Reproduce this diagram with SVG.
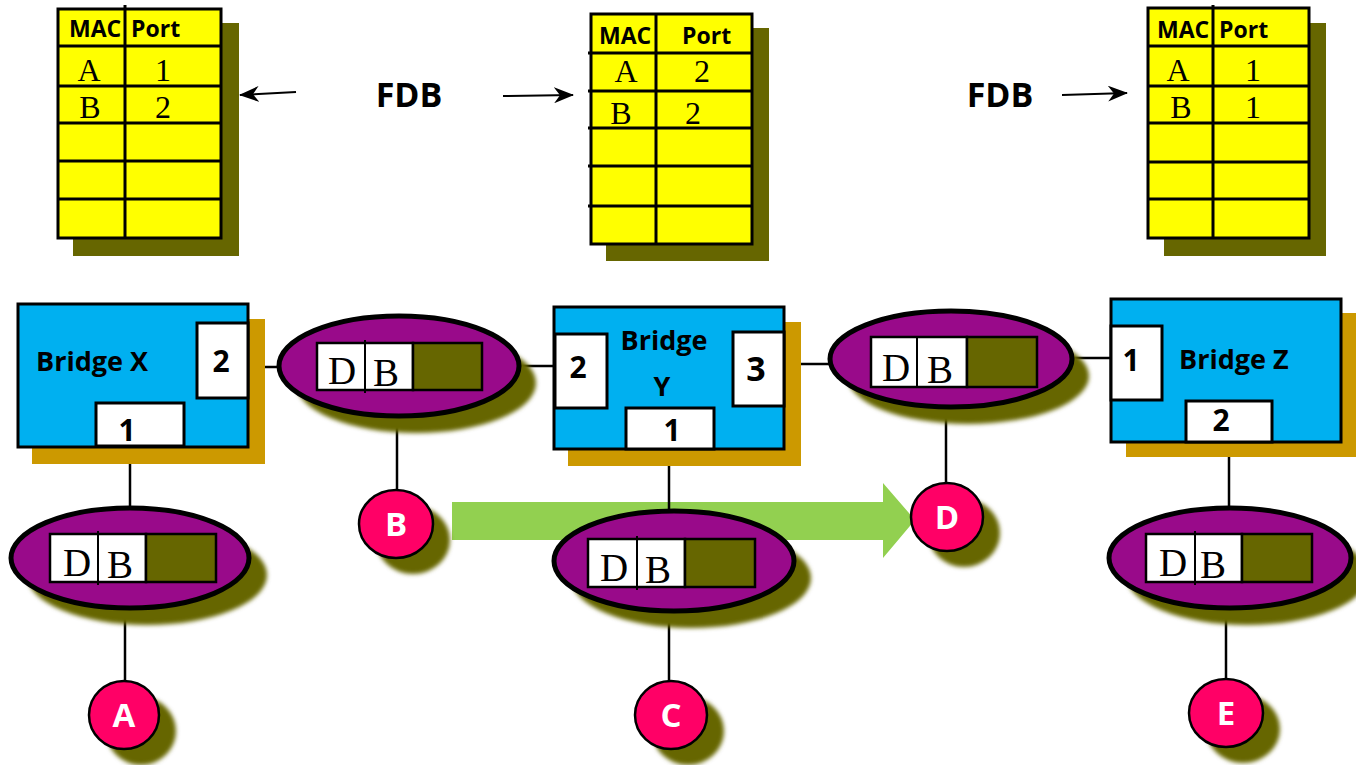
<svg xmlns="http://www.w3.org/2000/svg" width="1356" height="765" viewBox="0 0 1356 765">
<defs>
<filter id="soft" x="-20%" y="-20%" width="140%" height="140%"><feGaussianBlur stdDeviation="2"/></filter>
<marker id="arr" markerUnits="userSpaceOnUse" markerWidth="20" markerHeight="16" refX="19" refY="8" orient="auto"><path d="M0,0 L20,8 L0,16 L6,8 z" fill="#000"/></marker>
</defs>
<style>
.tbl{fill:#FFFF00;stroke:#000;stroke-width:3}
.tshadow{fill:#666600}
.grid{stroke:#000;stroke-width:3}
.hdr{font-family:"Open Sans","DejaVu Sans",sans-serif;font-weight:bold;font-size:23px;fill:#000}
.cell{font-family:"Liberation Serif",serif;font-size:32px;fill:#000;text-anchor:middle}
.fdb{font-family:"Open Sans","DejaVu Sans",sans-serif;font-weight:bold;font-size:34px;fill:#000;text-anchor:middle}
.bridge{fill:#00B0F0;stroke:#000;stroke-width:3}
.bshadow{fill:#CC9900}
.port{fill:#fff;stroke:#000;stroke-width:3}
.plabel{font-family:"Open Sans","DejaVu Sans",sans-serif;font-weight:bold;font-size:30px;fill:#000;text-anchor:middle}
.blabel{font-family:"Open Sans","DejaVu Sans",sans-serif;font-weight:bold;font-size:27px;fill:#000}
.seg{fill:#990A8A;stroke:#000;stroke-width:5}
.sshadow{fill:#666600;filter:url(#soft)}
.frame{fill:#fff;stroke:#000;stroke-width:2.5}
.data{fill:#666600;stroke:#000;stroke-width:2.5}
.div{stroke:#000;stroke-width:2}
.flet{font-family:"Liberation Serif",serif;font-size:39px;fill:#000;text-anchor:middle}
.host{fill:#FF0066;stroke:#000;stroke-width:2.5}
.hlabel{font-family:"Open Sans","DejaVu Sans",sans-serif;font-weight:bold;font-size:33px;fill:#fff;text-anchor:middle}
.link{stroke:#000;stroke-width:2.5;fill:none}
.farr{stroke:#000;stroke-width:2;fill:none;marker-end:url(#arr)}
</style>

<g id="connectors">
<polygon points="452,502 883,502 883,483 915,520 883,558 883,540 452,540" fill="#92D050"/>
<line class="farr" x1="296" y1="92" x2="240" y2="95"/>
<line class="farr" x1="503" y1="96" x2="573" y2="95"/>
<line class="farr" x1="1062" y1="95" x2="1127" y2="93"/>
<line class="link" x1="130" y1="447" x2="130" y2="508"/>
<line class="link" x1="125" y1="608" x2="125" y2="681"/>
<line class="link" x1="248" y1="367" x2="280" y2="367"/>
<line class="link" x1="397" y1="416" x2="397" y2="490"/>
<line class="link" x1="519" y1="366" x2="555" y2="366"/>
<line class="link" x1="669" y1="449" x2="669" y2="511"/>
<line class="link" x1="669" y1="611" x2="669" y2="681"/>
<line class="link" x1="784" y1="364" x2="830" y2="364"/>
<line class="link" x1="946" y1="407" x2="946" y2="483"/>
<line class="link" x1="1072" y1="358" x2="1111" y2="358"/>
<line class="link" x1="1229" y1="442" x2="1229" y2="508"/>
<line class="link" x1="1226" y1="608" x2="1226" y2="679"/>
</g>

<g id="fdb-label-1"><text class="fdb" x="409" y="107">FDB</text></g>
<g id="fdb-label-2"><text class="fdb" x="1000" y="107">FDB</text></g>

<g id="fdb-x">
<rect class="tshadow" x="73" y="23" width="166" height="233"/>
<rect class="tbl" x="58" y="9" width="163" height="229"/>
<line class="grid" x1="125" y1="5" x2="125" y2="238"/>
<line class="grid" x1="58" y1="46" x2="221" y2="46"/>
<line class="grid" x1="58" y1="86" x2="221" y2="86"/>
<line class="grid" x1="58" y1="123" x2="221" y2="123"/>
<line class="grid" x1="58" y1="161" x2="221" y2="161"/>
<line class="grid" x1="58" y1="199" x2="221" y2="199"/>
<text class="hdr" x="69" y="37">MAC</text>
<text class="hdr" x="131" y="37">Port</text>
<text class="cell" x="89" y="81">A</text>
<text class="cell" x="163" y="81">1</text>
<text class="cell" x="90" y="118">B</text>
<text class="cell" x="163" y="118">2</text>
</g>

<g id="fdb-y">
<rect class="tshadow" x="606" y="28" width="163" height="233"/>
<rect class="tbl" x="591" y="14" width="161" height="230"/>
<line class="grid" x1="656" y1="14" x2="656" y2="244"/>
<line class="grid" x1="588" y1="53" x2="752" y2="53"/>
<line class="grid" x1="588" y1="91" x2="752" y2="91"/>
<line class="grid" x1="588" y1="128" x2="752" y2="128"/>
<line class="grid" x1="588" y1="166" x2="752" y2="166"/>
<line class="grid" x1="588" y1="206" x2="752" y2="206"/>
<text class="hdr" x="599" y="44">MAC</text>
<text class="hdr" x="682" y="44">Port</text>
<text class="cell" x="626" y="82">A</text>
<text class="cell" x="702" y="82">2</text>
<text class="cell" x="621" y="124">B</text>
<text class="cell" x="693" y="124">2</text>
</g>

<g id="fdb-z">
<rect class="tshadow" x="1164" y="23" width="162" height="233"/>
<rect class="tbl" x="1148" y="8" width="161" height="230"/>
<line class="grid" x1="1213" y1="5" x2="1213" y2="238"/>
<line class="grid" x1="1148" y1="46" x2="1309" y2="46"/>
<line class="grid" x1="1148" y1="86" x2="1309" y2="86"/>
<line class="grid" x1="1148" y1="123" x2="1309" y2="123"/>
<line class="grid" x1="1148" y1="162" x2="1309" y2="162"/>
<line class="grid" x1="1148" y1="199" x2="1309" y2="199"/>
<text class="hdr" x="1157" y="38">MAC</text>
<text class="hdr" x="1219" y="38">Port</text>
<text class="cell" x="1178" y="81">A</text>
<text class="cell" x="1253" y="81">1</text>
<text class="cell" x="1181" y="118">B</text>
<text class="cell" x="1253" y="118">1</text>
</g>

<g id="bridge-x">
<rect class="bshadow" x="32" y="319" width="233" height="145"/>
<rect class="bridge" x="18" y="304" width="230" height="143"/>
<rect class="port" x="197" y="323" width="51" height="75"/>
<rect class="port" x="96" y="403" width="88" height="43"/>
<text class="blabel" x="36" y="371">Bridge X</text>
<text class="plabel" x="221" y="372">2</text>
<text class="plabel" x="127" y="441">1</text>
</g>

<g id="bridge-y">
<rect class="bshadow" x="568" y="322" width="233" height="144"/>
<rect class="bridge" x="554" y="307" width="230" height="142"/>
<rect class="port" x="555" y="334" width="52" height="74"/>
<rect class="port" x="733" y="332" width="51" height="74"/>
<rect class="port" x="626" y="408" width="88" height="41"/>
<text class="blabel" x="664" y="350" text-anchor="middle">Bridge</text>
<text class="blabel" x="662" y="396" text-anchor="middle">Y</text>
<text class="plabel" x="578" y="378">2</text>
<text class="plabel" x="756" y="381" style="font-size:34px">3</text>
<text class="plabel" x="672" y="441">1</text>
</g>

<g id="bridge-z">
<rect class="bshadow" x="1126" y="313" width="232" height="144"/>
<rect class="bridge" x="1111" y="299" width="230" height="143"/>
<rect class="port" x="1111" y="326" width="51" height="74"/>
<rect class="port" x="1186" y="401" width="86" height="41"/>
<text class="blabel" x="1179" y="369">Bridge Z</text>
<text class="plabel" x="1131" y="371">1</text>
<text class="plabel" x="1221" y="431">2</text>
</g>

<g id="frame-x">
<ellipse class="sshadow" cx="147" cy="575" rx="120" ry="50"/>
<ellipse class="seg" cx="130" cy="558" rx="119" ry="50"/>
<rect class="frame" x="50" y="534" width="96" height="48"/>
<rect class="data" x="146" y="534" width="70" height="48"/>
<line class="div" x1="98" y1="531" x2="98" y2="585"/>
<text class="flet" x="77" y="576">D</text>
<text class="flet" x="120" y="578">B</text>
</g>

<g id="frame-xy">
<ellipse class="sshadow" cx="416" cy="383" rx="120" ry="50"/>
<ellipse class="seg" cx="399" cy="366" rx="120" ry="50"/>
<rect class="frame" x="317" y="343" width="96" height="47"/>
<rect class="data" x="413" y="343" width="69" height="47"/>
<line class="div" x1="365" y1="340" x2="365" y2="393"/>
<text class="flet" x="342" y="384">D</text>
<text class="flet" x="386" y="386">B</text>
</g>

<g id="frame-y">
<ellipse class="sshadow" cx="691" cy="578" rx="120" ry="50"/>
<ellipse class="seg" cx="674" cy="561" rx="120" ry="50"/>
<rect class="frame" x="588" y="539" width="97" height="48"/>
<rect class="data" x="685" y="539" width="70" height="48"/>
<line class="div" x1="637" y1="536" x2="637" y2="590"/>
<text class="flet" x="614" y="581">D</text>
<text class="flet" x="658" y="583">B</text>
</g>

<g id="frame-yz">
<ellipse class="sshadow" cx="968" cy="376" rx="121" ry="48"/>
<ellipse class="seg" cx="951" cy="359" rx="121" ry="48"/>
<rect class="frame" x="871" y="337" width="96" height="50"/>
<rect class="data" x="967" y="337" width="70" height="50"/>
<line class="div" x1="917" y1="337" x2="917" y2="387"/>
<text class="flet" x="896" y="381">D</text>
<text class="flet" x="940" y="383">B</text>
</g>

<g id="frame-z">
<ellipse class="sshadow" cx="1247" cy="575" rx="121" ry="50"/>
<ellipse class="seg" cx="1230" cy="558" rx="121" ry="50"/>
<rect class="frame" x="1146" y="534" width="96" height="48"/>
<rect class="data" x="1242" y="534" width="70" height="48"/>
<line class="div" x1="1195" y1="531" x2="1195" y2="585"/>
<text class="flet" x="1173" y="576">D</text>
<text class="flet" x="1213" y="578">B</text>
</g>

<g id="host-a">
<ellipse class="sshadow" cx="141" cy="731" rx="35" ry="34"/>
<ellipse class="host" cx="124" cy="715" rx="35" ry="34"/>
<text class="hlabel" x="124" y="727">A</text>
</g>
<g id="host-b">
<ellipse class="sshadow" cx="413" cy="540" rx="37" ry="34"/>
<ellipse class="host" cx="396" cy="524" rx="37" ry="34"/>
<text class="hlabel" x="396" y="536">B</text>
</g>
<g id="host-c">
<ellipse class="sshadow" cx="688" cy="731" rx="36" ry="34"/>
<ellipse class="host" cx="671" cy="715" rx="36" ry="34"/>
<text class="hlabel" x="671" y="727">C</text>
</g>
<g id="host-d">
<ellipse class="sshadow" cx="964" cy="533" rx="36" ry="34"/>
<ellipse class="host" cx="947" cy="517" rx="36" ry="34"/>
<text class="hlabel" x="947" y="529">D</text>
</g>
<g id="host-e">
<ellipse class="sshadow" cx="1243" cy="729" rx="37" ry="34"/>
<ellipse class="host" cx="1226" cy="713" rx="37" ry="34"/>
<text class="hlabel" x="1226" y="725">E</text>
</g>
</svg>
